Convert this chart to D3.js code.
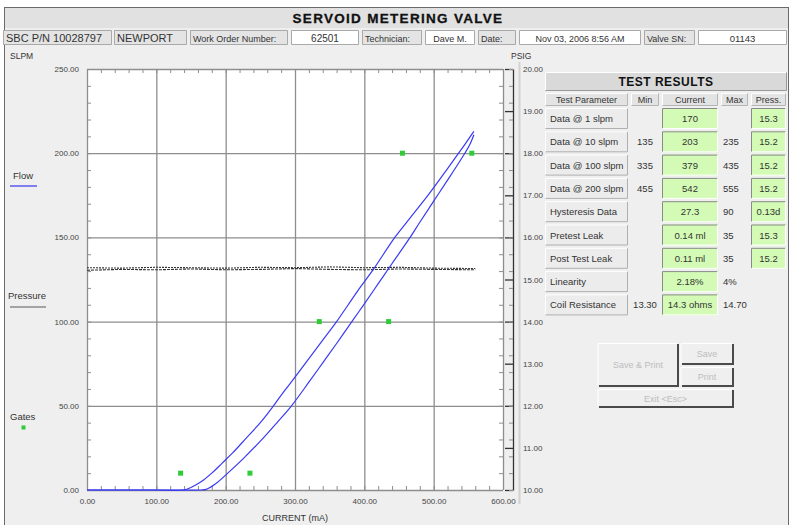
<!DOCTYPE html>
<html>
<head>
<meta charset="utf-8">
<script src="https://cdn.jsdelivr.net/npm/d3@7"></script>
<style>
  body { margin: 0; background: #ffffff; }
  svg text { font-family: "Liberation Sans", Arial, sans-serif; fill: #333; }
  .tick text { font-size: 8px; fill: #444; }
  .grid line { stroke: #8e8e8e; stroke-width: 1.3; }
  .minor line { stroke: #8e8e8e; stroke-width: 1; }
  .minor path, .grid path, .labels path { display: none; }
  .lineFlow { fill: none; stroke: #3a3af5; stroke-width: 1.2; }
  .linePress { fill: none; stroke: #333333; stroke-width: 1.1; }
</style>
</head>
<body>
<div id="graph"></div>
<script>

// 
// Chart data
// 
var currentTicks  = [0, 100, 200, 300, 400, 500, 600];
var flowTicks     = [0, 50, 100, 150, 200, 250];
var pressureTicks = [10, 11, 12, 13, 14, 15, 16, 17, 18, 19, 20];

// flow, increasing current (lower branch of the loop)
var flowUpCurrent = [0, 100, 165, 172, 185, 203, 225, 250, 275, 295, 320, 340, 360, 382, 400, 420, 440, 466, 480, 500, 520, 545, 552, 558];
var flowUpSlpm    = [0, 0, 0, 0.4, 3.5, 10, 18.5, 29, 40.5, 50, 64, 75.5, 87, 100, 110.5, 122.5, 134.5, 150, 159, 171.5, 184, 200, 205, 211];

// flow, decreasing current (upper branch of the loop)
var flowDownCurrent = [558, 548, 536, 515, 490, 465, 444, 413, 390, 360, 340, 320, 300, 285, 269, 250, 230, 210, 195, 180, 165, 150, 139, 100, 0];
var flowDownSlpm    = [213, 207, 200, 188, 174, 161, 150, 131, 118, 100, 89, 78, 67, 59, 50, 40, 31, 22, 16, 10, 5, 1.5, 0, 0, 0];

// pressure (PSIG) traced on both sweeps
var pressureCurrent  = [0, 50, 100, 150, 200, 250, 300, 350, 400, 450, 500, 560];
var pressureUpPsig   = [15.22, 15.24, 15.23, 15.25, 15.23, 15.24, 15.26, 15.24, 15.23, 15.25, 15.24, 15.23];
var pressureDownPsig = [15.28, 15.27, 15.29, 15.28, 15.27, 15.29, 15.28, 15.30, 15.28, 15.29, 15.27, 15.26];

// gate markers
var gateCurrent = [135, 235, 335, 435, 455, 555];
var gateSlpm    = [10, 10, 100, 100, 200, 200];

// header row
var titleText   = 'SERVOID METERING VALVE';
var headerTexts = ['SBC P/N 10028797', 'NEWPORT', 'Work Order Number:', '62501', 'Technician:', 'Dave M.', 'Date:', 'Nov 03, 2006   8:56 AM', 'Valve SN:', '01143'];

// test results table
var resultColumns = ['Test Parameter', 'Min', 'Current', 'Max', 'Press.'];
var testParams  = ['Data @ 1 slpm', 'Data @ 10 slpm', 'Data @ 100 slpm', 'Data @ 200 slpm', 'Hysteresis Data', 'Pretest Leak', 'Post Test Leak', 'Linearity', 'Coil Resistance'];
var testMin     = ['', '135', '335', '455', '', '', '', '', '13.30'];
var testCurrent = ['170', '203', '379', '542', '27.3', '0.14 ml', '0.11 ml', '2.18%', '14.3 ohms'];
var testMax     = ['', '235', '435', '555', '90', '35', '35', '4%', '14.70'];
var testPress   = ['15.3', '15.2', '15.2', '15.2', '0.13d', '15.3', '15.2', '', ''];

var buttonLabels = ['Save & Print', 'Save', 'Print', 'Exit <Esc>'];
var legendLabels = ['Flow', 'Pressure', 'Gates'];


//
// D3 Stuff...
//
var W = 792, H = 525;
var plot = { left: 87, right: 503, top: 69, bottom: 490 };

var svg = d3.select ('div#graph')
            .append ('svg')
            .attr ('width', W)
            .attr ('height', H);

// window frame
svg.append ('rect')
   .attr ('x', 4.5).attr ('y', 7.5)
   .attr ('width', 784).attr ('height', 520)
   .attr ('fill', '#efefef')
   .attr ('stroke', '#6a6a6a');

svg.append ('rect')
   .attr ('x', 5).attr ('y', 8)
   .attr ('width', 783).attr ('height', 20)
   .attr ('fill', '#e1e1e1');

svg.append ('text')
   .attr ('x', 398).attr ('y', 23)
   .attr ('text-anchor', 'middle')
   .style ('font-size', '13.5px')
   .style ('font-weight', 'bold')
   .style ('letter-spacing', '1.3px')
   .style ('stroke', '#111').style ('stroke-width', 0.3)
   .style ('fill', '#111')
   .text (titleText);

// raised / sunken box helper
var box = function (g, x, y, w, h, fill, tl, br)
{
    g.append ('rect').attr ('x', x).attr ('y', y).attr ('width', w).attr ('height', h).attr ('fill', fill);
    g.append ('path').attr ('d', 'M' + (x + 0.5) + ',' + (y + h - 0.5) + 'V' + (y + 0.5) + 'H' + (x + w - 0.5))
     .attr ('fill', 'none').attr ('stroke', tl);
    g.append ('path').attr ('d', 'M' + (x + 0.5) + ',' + (y + h - 0.5) + 'H' + (x + w - 0.5) + 'V' + (y + 0.5))
     .attr ('fill', 'none').attr ('stroke', br);
};

// header row
var headerLayout = [
    { x: 3,   w: 109, white: false, size: 11,  anchor: 'start' },
    { x: 114, w: 73,  white: false, size: 11,  anchor: 'start' },
    { x: 190, w: 98,  white: false, size: 9,   anchor: 'start' },
    { x: 291, w: 68,  white: true,  size: 10,  anchor: 'middle' },
    { x: 362, w: 60,  white: false, size: 9,   anchor: 'start' },
    { x: 425, w: 50,  white: true,  size: 9,   anchor: 'middle' },
    { x: 478, w: 38,  white: false, size: 9,   anchor: 'start' },
    { x: 519, w: 122, white: true,  size: 9,   anchor: 'middle' },
    { x: 644, w: 51,  white: false, size: 9,   anchor: 'start' },
    { x: 698, w: 89,  white: true,  size: 9.5, anchor: 'middle' }
];

var header = svg.append ('g');
headerTexts.forEach (function (t, i)
{
    var L = headerLayout[i];
    box (header, L.x, 30, L.w, 15, L.white ? '#ffffff' : '#e4e4e4', '#a9a9a9', '#a9a9a9');
    header.append ('text')
          .attr ('x', L.anchor === 'middle' ? L.x + L.w / 2 : L.x + 3)
          .attr ('y', 41.5)
          .attr ('text-anchor', L.anchor)
          .style ('font-size', L.size + 'px')
          .style ('fill', '#333')
          .text (t);
});

// scales
var xScale = d3.scaleLinear ()
               .domain ([0, 600])
               .range ([plot.left, plot.right]);

var yScale = d3.scaleLinear ()
               .domain ([0, 250])
               .range ([plot.bottom, plot.top]);

var pScale = d3.scaleLinear ()
               .domain ([10, 20])
               .range ([plot.bottom, plot.top]);

var fmt = d3.format ('.2f');

// axis titles
svg.append ('text').attr ('x', 10).attr ('y', 59).style ('font-size', '8.5px').text ('SLPM');
svg.append ('text').attr ('x', 511).attr ('y', 59).style ('font-size', '8.5px').text ('PSIG');
svg.append ('text').attr ('x', 295).attr ('y', 521).attr ('text-anchor', 'middle')
   .style ('font-size', '9px').text ('CURRENT (mA)');

// separator right of PSIG axis
svg.append ('line')
   .attr ('x1', 519.5).attr ('x2', 519.5)
   .attr ('y1', 62).attr ('y2', 504)
   .attr ('stroke', '#d2d2d2').attr ('stroke-width', 2);

// plot area
svg.append ('rect')
   .attr ('x', plot.left).attr ('y', plot.top)
   .attr ('width', plot.right - plot.left)
   .attr ('height', plot.bottom - plot.top)
   .attr ('fill', '#ffffff');

// grid
svg.append ('g')
   .attr ('class', 'grid')
   .attr ('transform', 'translate(0,' + plot.bottom + ')')
   .call (d3.axisBottom (xScale).tickValues (currentTicks).tickSize (-(plot.bottom - plot.top)).tickFormat (''));

svg.append ('g')
   .attr ('class', 'grid')
   .attr ('transform', 'translate(' + plot.left + ',0)')
   .call (d3.axisLeft (yScale).tickValues (flowTicks).tickSize (-(plot.right - plot.left)).tickFormat (''));

// minor ticks on the plot border
var minorX = xScale.ticks (24);
var minorY = yScale.ticks (25);

svg.append ('g').attr ('class', 'minor')
   .attr ('transform', 'translate(0,' + plot.bottom + ')')
   .call (d3.axisTop (xScale).tickValues (minorX).tickSize (4).tickFormat (''));
svg.append ('g').attr ('class', 'minor')
   .attr ('transform', 'translate(0,' + plot.top + ')')
   .call (d3.axisBottom (xScale).tickValues (minorX).tickSize (4).tickFormat (''));
svg.append ('g').attr ('class', 'minor')
   .attr ('transform', 'translate(' + plot.left + ',0)')
   .call (d3.axisRight (yScale).tickValues (minorY).tickSize (4).tickFormat (''));
svg.append ('g').attr ('class', 'minor')
   .attr ('transform', 'translate(' + plot.right + ',0)')
   .call (d3.axisLeft (yScale).tickValues (minorY).tickSize (4).tickFormat (''));

// tick labels
svg.append ('g').attr ('class', 'labels')
   .attr ('transform', 'translate(0,' + plot.bottom + ')')
   .call (d3.axisBottom (xScale).tickValues (currentTicks).tickSize (0).tickPadding (8).tickFormat (fmt));

svg.append ('g').attr ('class', 'labels')
   .attr ('transform', 'translate(' + plot.left + ',0)')
   .call (d3.axisLeft (yScale).tickValues (flowTicks).tickSize (0).tickPadding (8).tickFormat (fmt));

// PSIG axis
var pAxisX = 513;
svg.append ('g')
   .attr ('transform', 'translate(' + pAxisX + ',0)')
   .call (d3.axisLeft (pScale).tickValues (pressureTicks).tickSize (8).tickSizeOuter (0).tickFormat (''))
   .call (function (g) { g.selectAll ('line, path').attr ('stroke', '#333').attr ('stroke-width', 1.3); });

svg.append ('g').attr ('class', 'minor')
   .attr ('transform', 'translate(' + pAxisX + ',0)')
   .call (d3.axisLeft (pScale).tickValues (d3.range (10, 20.01, 0.4)).tickSize (4).tickFormat (''))
   .call (function (g) { g.selectAll ('line').attr ('stroke', '#444'); });

svg.append ('g').attr ('class', 'labels')
   .attr ('transform', 'translate(' + pAxisX + ',0)')
   .call (d3.axisRight (pScale).tickValues (pressureTicks).tickSize (0).tickPadding (10).tickFormat (fmt));

// pressure traces
var linePress = function (vals)
{
    return d3.line ()
             .x (function (d, i) { return xScale (pressureCurrent[i]); })
             .y (function (d)    { return pScale (d); }) (vals);
};

svg.append ('path').attr ('class', 'linePress').attr ('stroke-dasharray', '3,1').attr ('d', linePress (pressureUpPsig));
svg.append ('path').attr ('class', 'linePress').attr ('stroke-dasharray', '2,1').attr ('d', linePress (pressureDownPsig));

// flow loop
var lineFlow = d3.line ()
                 .x (function (d) { return xScale (d[0]); })
                 .y (function (d) { return yScale (d[1]); })
                 .curve (d3.curveCatmullRom.alpha (0.5));

svg.append ('path')
   .datum (d3.zip (flowUpCurrent, flowUpSlpm))
   .attr ('class', 'lineFlow')
   .attr ('d', lineFlow);

svg.append ('path')
   .datum (d3.zip (flowDownCurrent, flowDownSlpm))
   .attr ('class', 'lineFlow')
   .attr ('d', lineFlow);

// gates
svg.append ('g')
   .selectAll ('rect')
   .data (d3.zip (gateCurrent, gateSlpm))
   .join ('rect')
   .attr ('x', function (d) { return xScale (d[0]) - 2.5; })
   .attr ('y', function (d) { return yScale (d[1]) - 2.5; })
   .attr ('width', 5).attr ('height', 5)
   .attr ('fill', '#2fcc3a');

// legend
var legend = svg.append ('g').style ('font-size', '9.5px');
legend.append ('text').attr ('x', 13).attr ('y', 179).text (legendLabels[0]);
legend.append ('line').attr ('x1', 10).attr ('x2', 37).attr ('y1', 186).attr ('y2', 186)
      .attr ('stroke', '#5a5af0').attr ('stroke-width', 1.5);
legend.append ('text').attr ('x', 8).attr ('y', 299).text (legendLabels[1]);
legend.append ('line').attr ('x1', 10).attr ('x2', 46).attr ('y1', 307).attr ('y2', 307)
      .attr ('stroke', '#8a8a8a').attr ('stroke-width', 1.5);
legend.append ('text').attr ('x', 10).attr ('y', 420).text (legendLabels[2]);
legend.append ('rect').attr ('x', 21.5).attr ('y', 425.5).attr ('width', 4).attr ('height', 4).attr ('fill', '#2fcc3a');

// 
// Test results panel
// 
var panel = svg.append ('g').style ('font-size', '9.5px');

box (panel, 545, 72, 242, 19, '#d9d9d9', '#ffffff', '#9a9a9a');
panel.append ('text')
     .attr ('x', 666).attr ('y', 86)
     .attr ('text-anchor', 'middle')
     .style ('font-size', '12px').style ('font-weight', 'bold').style ('fill', '#111')
     .style ('letter-spacing', '0.5px')
     .text ('TEST RESULTS');

var colLayout = [ { x: 545, w: 83 }, { x: 631, w: 28 }, { x: 662, w: 56 }, { x: 721, w: 27 }, { x: 751, w: 35 } ];

resultColumns.forEach (function (c, i)
{
    var L = colLayout[i];
    box (panel, L.x, 93, L.w, 13, '#e3e3e3', '#ffffff', '#b5b5b5');
    panel.append ('text')
         .attr ('x', L.x + L.w / 2).attr ('y', 103)
         .attr ('text-anchor', 'middle')
         .style ('font-size', '9px')
         .text (c);
});

var green = '#d3fbb5';
testParams.forEach (function (p, i)
{
    var y = 108 + i * 23.3;
    box (panel, 545, y, 83, 21, '#ececec', '#ffffff', '#b0b0b0');
    panel.append ('text').attr ('x', 550).attr ('y', y + 14).text (p);

    panel.append ('text').attr ('x', 645).attr ('y', y + 14).attr ('text-anchor', 'middle').text (testMin[i]);

    box (panel, 662, y, 56, 21, green, '#8a8a8a', '#ffffff');
    panel.append ('text').attr ('x', 690).attr ('y', y + 14).attr ('text-anchor', 'middle').text (testCurrent[i]);

    panel.append ('text').attr ('x', 723).attr ('y', y + 14).text (testMax[i]);

    if (testPress[i] !== '')
    {
        box (panel, 751, y, 35, 21, green, '#8a8a8a', '#ffffff');
        panel.append ('text').attr ('x', 768.5).attr ('y', y + 14).attr ('text-anchor', 'middle').text (testPress[i]);
    }
});

// disabled buttons
var btnLayout = [ { x: 598, y: 343, w: 80, h: 43 }, { x: 681, y: 343, w: 52, h: 21 }, { x: 681, y: 367, w: 52, h: 19 }, { x: 598, y: 389, w: 135, h: 18 } ];

var buttons = svg.append ('g');
buttonLabels.forEach (function (b, i)
{
    var L = btnLayout[i];
    buttons.append ('rect').attr ('x', L.x).attr ('y', L.y).attr ('width', L.w).attr ('height', L.h).attr ('fill', '#efefef');
    buttons.append ('path')
           .attr ('d', 'M' + L.x + ',' + (L.y + L.h - 1) + 'V' + (L.y + 0.5) + 'H' + (L.x + L.w - 1))
           .attr ('fill', 'none').attr ('stroke', '#ffffff');
    buttons.append ('path')
           .attr ('d', 'M' + (L.x + 1) + ',' + (L.y + L.h) + 'H' + (L.x + L.w) + 'V' + (L.y + 1))
           .attr ('fill', 'none').attr ('stroke', '#4a4a4a').attr ('stroke-width', 2);
    buttons.append ('text')
           .attr ('x', L.x + L.w / 2).attr ('y', L.y + L.h / 2 + 3.5)
           .attr ('text-anchor', 'middle')
           .style ('font-size', '9px').style ('fill', '#bdbdbd')
           .text (b);
});

</script>
</body>
</html>
